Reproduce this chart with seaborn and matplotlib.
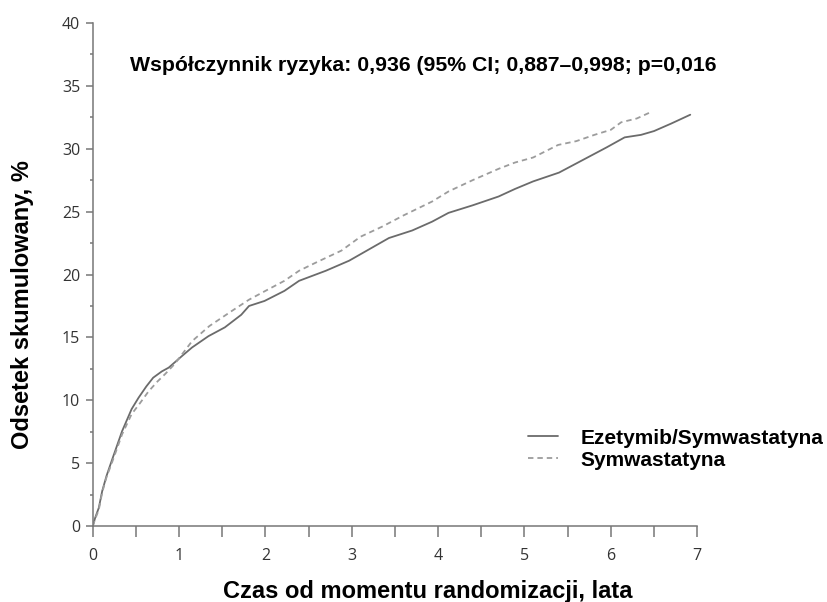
import pandas as pd
import seaborn as sns
import matplotlib.pyplot as plt
from matplotlib.ticker import MultipleLocator

# values
czas_eze = [0, 0.03, 0.07, 0.11, 0.16, 0.22, 0.34, 0.45, 0.53, 0.62, 0.70, 0.80, 0.88, 1.03, 1.15,
            1.34, 1.53, 1.72, 1.81, 1.99, 2.22, 2.39, 2.70, 2.97, 3.20, 3.43, 3.70, 3.93, 4.12,
            4.40, 4.70, 4.89, 5.10, 5.40, 5.73, 5.95, 6.16, 6.35, 6.50, 6.70, 6.92]
odsetek_eze = [0, 0.7, 1.45, 2.8, 4.0, 5.2, 7.55, 9.3, 10.2, 11.1, 11.8, 12.3, 12.6, 13.5, 14.2,
               15.1, 15.8, 16.8, 17.5, 17.9, 18.7, 19.5, 20.3, 21.1, 22.0, 22.9, 23.5, 24.2, 24.9,
               25.5, 26.2, 26.8, 27.4, 28.1, 29.3, 30.1, 30.9, 31.1, 31.4, 32.0, 32.7]

czas_sym = [0, 0.03, 0.07, 0.11, 0.16, 0.22, 0.34, 0.45, 0.55, 0.645, 0.75, 0.84, 0.95, 1.15,
            1.35, 1.61, 1.81, 2.0, 2.22, 2.39, 2.60, 2.88, 3.10, 3.35, 3.60, 3.93, 4.12, 4.40,
            4.70, 4.89, 5.10, 5.39, 5.60, 5.81, 6.00, 6.12, 6.30, 6.46]
odsetek_sym = [0, 0.6, 1.3, 2.7, 3.9, 5.0, 7.3, 8.9, 9.8, 10.7, 11.5, 12.1, 12.9, 14.7,
               15.9, 17.1, 18.0, 18.7, 19.5, 20.3, 21.0, 21.9, 23.0, 23.8, 24.7, 25.8, 26.6, 27.5,
               28.4, 28.9, 29.3, 30.3, 30.6, 31.1, 31.5, 32.1, 32.4, 32.9]

grupy = ["Ezetymib/Symwastatyna", "Symwastatyna"]

df = pd.DataFrame({
    "czas": czas_eze + czas_sym,
    "odsetek": odsetek_eze + odsetek_sym,
    "grupa": [grupy[0]] * len(czas_eze) + [grupy[1]] * len(czas_sym),
})

sns.set_style("white")
# tick numbers in Open Sans, all other texts get Liberation Sans explicitly
plt.rcParams["font.family"] = ["Open Sans", "DejaVu Sans"]
plt.rcParams["text.color"] = "black"
bold_font = ["Liberation Sans", "DejaVu Sans"]

fig = plt.figure(figsize=(8.28, 6.02), dpi=100)
ax = fig.add_axes([0.112, 0.126, 0.730, 0.836])

sns.lineplot(data=df, x="czas", y="odsetek", hue="grupa", style="grupa",
             palette={grupy[0]: "#6b6b6b", grupy[1]: "#9c9c9c"},
             dashes={grupy[0]: "", grupy[1]: (3, 2.2)},
             estimator=None, sort=False, linewidth=1.3, ax=ax)

ax.set_xlim(0, 7)
ax.set_ylim(0, 40)
ax.xaxis.set_major_locator(MultipleLocator(1))
ax.xaxis.set_minor_locator(MultipleLocator(0.5))
ax.yaxis.set_major_locator(MultipleLocator(5))
ax.yaxis.set_minor_locator(MultipleLocator(2.5))

for s in ["top", "right"]:
    ax.spines[s].set_visible(False)
for s in ["left", "bottom"]:
    ax.spines[s].set_color("#777777")
    ax.spines[s].set_linewidth(1.1)

ax.tick_params(axis="x", which="both", direction="out", length=8, width=1.1,
               color="#777777", labelsize=11.5, labelcolor="#333333", pad=8, bottom=True)
ax.tick_params(axis="y", which="major", direction="out", length=5, width=1.1,
               color="#777777", labelsize=11.5, labelcolor="#333333", pad=4, left=True)
ax.tick_params(axis="y", which="minor", direction="out", length=2.5, width=1.1,
               color="#777777", left=True)

ax.set_xlabel("Czas od momentu randomizacji, lata", fontsize=17, fontweight="bold",
              family=bold_font, color="black", va="center")
ax.set_ylabel("Odsetek skumulowany, %", fontsize=17, fontweight="bold",
              family=bold_font, color="black", va="center")
ax.xaxis.set_label_coords(0.555, -0.13)
ax.yaxis.set_label_coords(-0.117, 0.441)

ax.text(0.43, 36.2, "Współczynnik ryzyka: 0,936 (95% CI; 0,887–0,998; p=0,016",
        fontsize=15.3, fontweight="bold", family=bold_font, color="black",
        va="baseline", ha="left")

handles, labels = ax.get_legend_handles_labels()
leg = ax.legend(handles, labels, loc="upper left", bbox_to_anchor=(0.638, 0.288),
                bbox_transform=fig.transFigure, frameon=False, borderpad=0,
                borderaxespad=0, handlelength=1.45, handletextpad=1.05,
                labelspacing=0.15,
                prop={"size": 15, "weight": "bold", "family": bold_font})

fig.savefig("out.png", dpi=100)
